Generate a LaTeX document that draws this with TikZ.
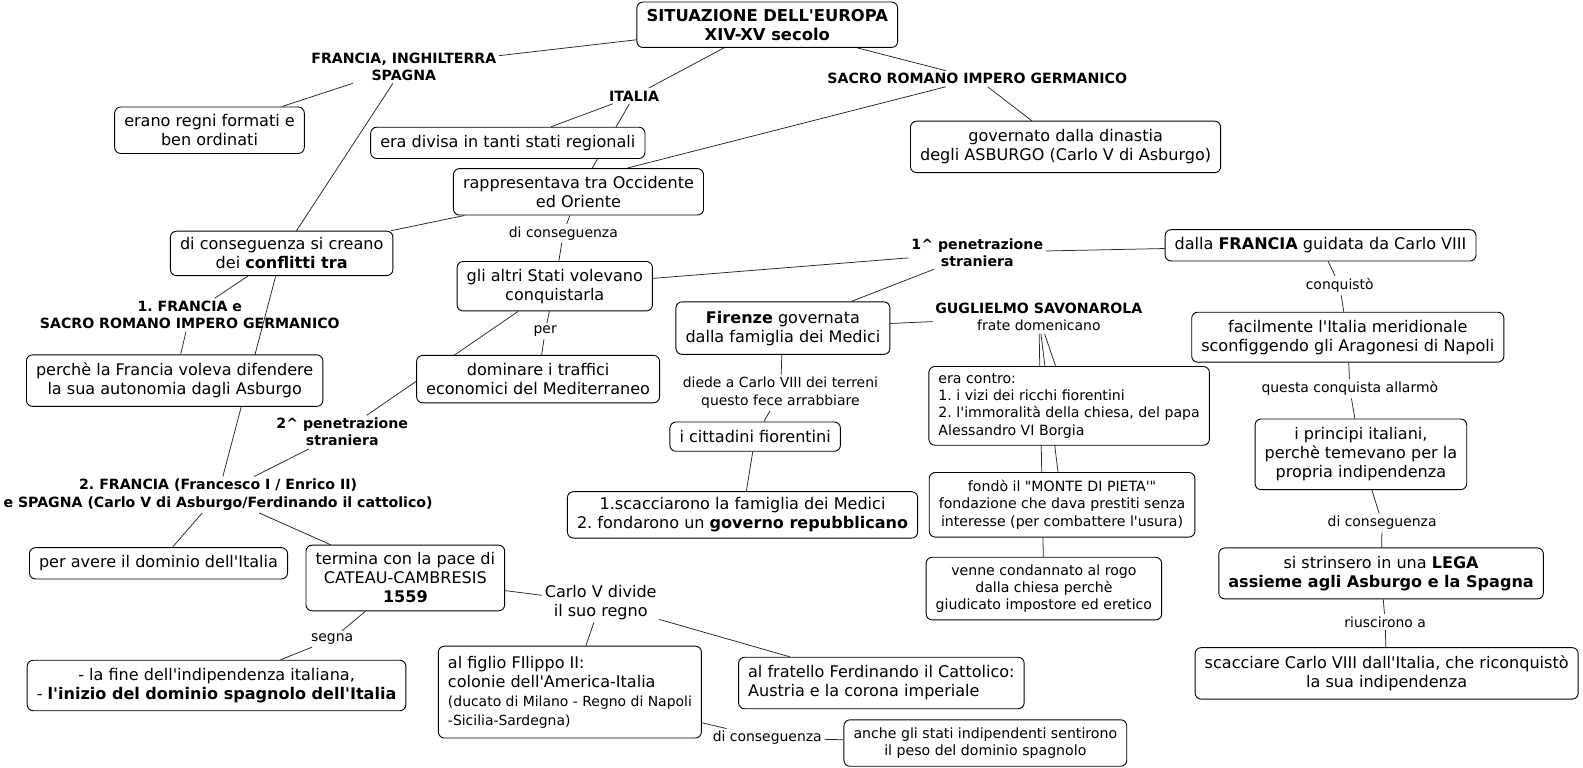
\documentclass[tikz,border=0pt]{standalone}
\usepackage{fontspec}
\setmainfont{DejaVu Sans}[Ligatures=TeXOff]
\usetikzlibrary{backgrounds}
\newcommand\fbig{\fontsize{15.9}{18.8}\selectfont\frenchspacing}
\newcommand\flab{\fontsize{13.8}{17}\selectfont\frenchspacing}
\newcommand\fbl{\fontsize{14}{17}\selectfont\bfseries\frenchspacing}
\newcommand\fsm{\fontsize{14}{17}\selectfont\frenchspacing}
\newcommand\ftitle{\fontsize{16.2}{19}\selectfont\bfseries\frenchspacing}
\tikzset{
  box/.style={draw, line width=0.9pt, rounded corners=6pt, fill=white, align=center,
    inner xsep=9.5pt, inner ysep=4pt, font=\fbig},
  lab/.style={align=center, inner sep=2.5pt, font=\flab},
  blab/.style={align=center, inner sep=2.5pt, font=\fbl},
  conn/.style={line width=0.75pt, draw=black!85}
}
\begin{document}
\begin{tikzpicture}[x=1pt,y=-1pt]
\useasboundingbox (0,0) rectangle (1568,760.7);
% nodes
\node[box, font=\ftitle, minimum height=45] (title) at (760,24.5) {SITUAZIONE DELL'EUROPA\\XIV-XV secolo};
\node[blab] (FIS) at (400,66) {FRANCIA, INGHILTERRA\\SPAGNA};
\node[blab] (ITALIA) at (628,95) {ITALIA};
\node[blab] (SRIG) at (968,78) {SACRO ROMANO IMPERO GERMANICO};
\node[box, minimum height=46] (erano) at (207.5,129) {erano regni formati e\\ben ordinati};
\node[box, minimum height=31] (divisa) at (503,141.5) {era divisa in tanti stati regionali};
\node[box, minimum height=51] (governato) at (1055.5,145.5) {governato dalla dinastia\\degli ASBURGO (Carlo V di Asburgo)};
\node[box, minimum height=46] (rappr) at (573,190) {rappresentava tra Occidente\\ed Oriente};
\node[lab] (dicA) at (558,231) {di conseguenza};
\node[box, minimum height=44] (conflitti) at (279,251) {di conseguenza si creano\\dei \textbf{conflitti tra}};
\node[box, minimum height=49] (altri) at (549.5,283.5) {gli altri Stati volevano\\conquistarla};
\node[blab] (pen1) at (968,250) {1\textasciicircum{} penetrazione\\straniera};
\node[box, minimum height=31] (dallaF) at (1308,243) {dalla \textbf{FRANCIA} guidata da Carlo VIII};
\node[blab] (fr1) at (188,312) {1. FRANCIA e\\SACRO ROMANO IMPERO GERMANICO};
\node[box, minimum height=52] (firenze) at (775.5,325) {\textbf{Firenze} governata\\dalla famiglia dei Medici};
\node[lab] (savon) at (1029,314) {{\fbl GUGLIELMO SAVONAROLA}\\frate domenicano};
\node[lab] (per) at (540,328) {per};
\node[lab] (conq) at (1327,283) {conquistò};
\node[box, minimum height=49.5] (facil) at (1335,334) {facilmente l'Italia meridionale\\sconfiggendo gli Aragonesi di Napoli};
\node[box, minimum height=51] (perche) at (173,377) {perchè la Francia voleva difendere\\la sua autonomia dagli Asburgo};
\node[box, minimum height=47] (dominare) at (533,375.5) {dominare i traffici\\economici del Mediterraneo};
\node[lab] (diede) at (773,389) {diede a Carlo VIII dei terreni\\questo fece arrabbiare};
\node[box, font=\fsm, align=left, minimum height=78] (contro) at (1059,402) {era contro:\\1. i vizi dei ricchi fiorentini\\2. l'immoralità della chiesa, del papa\\Alessandro VI Borgia};
\node[lab] (questa) at (1337,385) {questa conquista allarmò};
\node[blab] (pen2) at (339,428) {2\textasciicircum{} penetrazione\\straniera};
\node[box, minimum height=29] (citt) at (748,432.5) {i cittadini fiorentini};
\node[box, minimum height=70] (principi) at (1348,450) {i principi italiani,\\perchè temevano per la\\propria indipendenza};
\node[blab] (fr2) at (216,490) {2. FRANCIA (Francesco I / Enrico II)\\e SPAGNA (Carlo V di Asburgo/Ferdinando il cattolico)};
\node[box, minimum height=46] (scacc1) at (735.5,510) {1.scacciarono la famiglia dei Medici\\2. fondarono un \textbf{governo repubblicano}};
\node[box, font=\fsm, minimum height=64] (fondo) at (1052,500) {fondò il "MONTE DI PIETA'"\\fondazione che dava prestiti senza\\interesse (per combattere l'usura)};
\node[lab] (dicB) at (1369,518) {di conseguenza};
\node[box, minimum height=31] (peravere) at (157,558) {per avere il dominio dell'Italia};
\node[box, minimum height=65] (termina) at (401.5,572.5) {termina con la pace di\\CATEAU-CAMBRESIS\\\textbf{1559}};
\node[box, minimum height=50.5] (lega) at (1368,568) {si strinsero in una \textbf{LEGA}\\\textbf{assieme agli Asburgo e la Spagna}};
\node[box, font=\fsm, minimum height=62] (venne) at (1034,583) {venne condannato al rogo\\dalla chiesa perchè\\giudicato impostore ed eretico};
\node[lab, font=\fbig] (carlo) at (595,597) {Carlo V divide\\il suo regno};
\node[lab] (riusc) at (1372,616) {riuscirono a};
\node[lab] (segna) at (329,633) {segna};
\node[box, align=left, minimum height=91] (figlio) at (564.5,685.5) {al figlio FIlippo II:\\colonie dell'America-Italia\\{\flab (ducato di Milano - Regno di Napoli}\\{\flab -Sicilia-Sardegna)}};
\node[box, align=left, minimum height=51] (fratello) at (873,676.5) {al fratello Ferdinando il Cattolico:\\Austria e la corona imperiale};
\node[box, minimum height=51] (scacciare) at (1373.5,667) {scacciare Carlo VIII dall'Italia, che riconquistò\\la sua indipendenza};
\node[box, minimum height=50] (lafine) at (214.5,679) {- la fine dell'indipendenza italiana,\\- \textbf{l'inizio del dominio spagnolo dell'Italia}};
\node[lab] (dicC) at (760,731) {di conseguenza};
\node[box, font=\fsm, minimum height=46] (anche) at (976,736) {anche gli stati indipendenti sentirono\\il peso del dominio spagnolo};
% connectors
\begin{pgfonlayer}{background}
\fill[white] (0,0) rectangle (1568,760.7);
\draw[conn] (title) -- (FIS);
\draw[conn] (title) -- (ITALIA);
\draw[conn] (title) -- (SRIG);
\draw[conn] (FIS) -- (erano);
\draw[conn] (FIS) -- (conflitti);
\draw[conn] (ITALIA) -- (divisa);
\draw[conn] (ITALIA) -- (rappr);
\draw[conn] (SRIG) -- (governato);
\draw[conn] (SRIG) -- (rappr.26);
\draw[conn] (rappr) -- (conflitti);
\draw[conn] (rappr) -- (dicA);
\draw[conn] (dicA) -- (altri);
\draw[conn] (conflitti) -- (fr1);
\draw[conn] (fr1) -- (perche);
\draw[conn] (conflitti) -- (fr2);
\draw[conn] (altri) -- (pen1);
\draw[conn] (pen1) -- (dallaF);
\draw[conn] (pen1) -- (firenze);
\draw[conn] (altri) -- (per);
\draw[conn] (per) -- (dominare);
\draw[conn] (altri) -- (pen2);
\draw[conn] (pen2) -- (fr2);
\draw[conn] (fr2) -- (peravere);
\draw[conn] (fr2) -- (termina);
\draw[conn] (termina) -- (segna);
\draw[conn] (segna) -- (lafine);
\draw[conn] (termina) -- (carlo);
\draw[conn] (carlo) -- (figlio);
\draw[conn] (carlo) -- (fratello);
\draw[conn] (figlio) -- (dicC);
\draw[conn] (dicC) -- (anche);
\draw[conn] (firenze) -- (savon);
\draw[conn] (firenze) -- (diede);
\draw[conn] (diede) -- (citt);
\draw[conn] (citt) -- (scacc1);
\draw[conn] (savon) -- (contro);
\draw[conn] (savon) -- (fondo);
\draw[conn] (savon) -- (venne);
\draw[conn] (dallaF) -- (conq);
\draw[conn] (conq) -- (facil);
\draw[conn] (facil) -- (questa);
\draw[conn] (questa) -- (principi);
\draw[conn] (principi) -- (dicB);
\draw[conn] (dicB) -- (lega);
\draw[conn] (lega) -- (riusc);
\draw[conn] (riusc) -- (scacciare);
\end{pgfonlayer}
\end{tikzpicture}
\end{document}
